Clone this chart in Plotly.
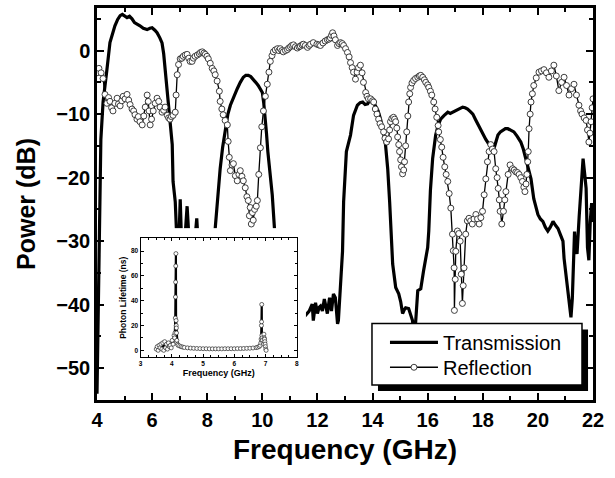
import plotly.graph_objects as go

# ---------------- data ----------------
trans_freq = [4.00, 4.03, 4.06, 4.09, 4.14, 4.22, 4.29, 4.36, 4.47, 4.56, 4.65, 4.75, 4.84, 4.92, 5.00,
              5.09, 5.18, 5.27, 5.36, 5.45, 5.56, 5.68, 5.82, 5.92, 6.00, 6.10, 6.18, 6.28, 6.36, 6.42,
              6.47, 6.53, 6.58, 6.65, 6.73, 6.76, 6.84, 6.88, 6.93, 6.98, 7.02, 7.06, 7.12, 7.20, 7.27,
              7.33, 7.42, 7.55, 7.62, 7.68, 7.85, 8.05, 8.20, 8.29, 8.38, 8.47, 8.56, 8.65, 8.75, 8.84,
              8.96, 9.09, 9.20, 9.31, 9.40, 9.49, 9.58, 9.67, 9.76, 9.85, 9.93, 10.00, 10.05, 10.10, 10.15,
              10.20, 10.28, 10.36, 10.44, 10.60, 11.00, 11.50, 11.70, 11.81, 11.85, 11.93, 12.00, 12.06, 12.11,
              12.18, 12.25, 12.31, 12.36, 12.44, 12.51, 12.58, 12.65, 12.73, 12.76, 12.84, 12.91, 12.95, 13.05,
              13.20, 13.31, 13.45, 13.55, 13.64, 13.73, 13.82, 13.93, 14.02, 14.10, 14.20, 14.29, 14.38, 14.47,
              14.55, 14.62, 14.68, 14.73, 14.84, 14.95, 15.02, 15.09, 15.15, 15.20, 15.31, 15.38, 15.45, 15.50,
              15.56, 15.64, 15.75, 15.85, 16.00, 16.04, 16.10, 16.18, 16.29, 16.38, 16.47, 16.60, 16.73, 16.82,
              16.91, 17.00, 17.09, 17.18, 17.27, 17.36, 17.45, 17.55, 17.64, 17.73, 17.82, 17.91, 18.00, 18.11,
              18.22, 18.32, 18.40, 18.47, 18.55, 18.64, 18.73, 18.82, 18.91, 19.02, 19.13, 19.25, 19.38, 19.47,
              19.56, 19.65, 19.75, 19.85, 19.93, 20.00, 20.09, 20.18, 20.27, 20.36, 20.45, 20.55, 20.64, 20.73,
              20.82, 20.91, 20.95, 21.02, 21.09, 21.15, 21.20, 21.25, 21.28, 21.33, 21.37, 21.42, 21.50, 21.56,
              21.64, 21.70, 21.75, 21.80, 21.85, 21.90, 21.95, 22.00]
trans_db = [-54, -45, -32, -22, -14, -8.1, -5, -3, 1.25, 2.8, 3.9, 4.9, 5.5, 5.7, 5.5,
            5.2, 5.4, 5.0, 4.4, 4.2, 3.9, 3.5, 3.3, 3.5, 3.6, 3.2, 2.8, 2.0, 1.2, -0.5,
            -3, -5.5, -8.1, -11.5, -14.8, -20.6, -23.8, -28, -30, -29, -23.4, -29, -31, -29, -24.5,
            -29, -32, -30, -26.4, -31, -35, -36, -33, -28, -23, -18.6, -15.2, -12.3, -10, -8.6,
            -7.2, -6, -5, -4.2, -3.9, -3.9, -4.1, -4.5, -5, -5.5, -6, -6.6, -8.2, -10.2, -13,
            -15.9, -19.5, -22.7, -28, -35, -40, -42, -41, -39.9, -42.5, -39.7, -41.4, -40.4, -40.2,
            -41, -39.1, -40.8, -41.4, -38.9, -41, -38.3, -38.9, -43, -42.5, -36.7, -31.6, -23.8, -15.9,
            -13.3, -10.2, -8.6, -8.2, -8.1, -8.5, -8.4, -7.6, -8.0, -8.6, -9.5, -10.8, -12.5, -14.8,
            -18.6, -23.8, -28.4, -33.6, -37.3, -38.3, -39.5, -41.4, -40.8, -40.5, -40.6, -41.8, -42.5, -45,
            -43, -37.8, -37.5, -34.7, -31, -28.4, -22, -17, -13.3, -11.8, -10.8, -10.2, -9.7, -9.9,
            -9.7, -9.4, -9.2, -9.1, -8.9, -9.0, -9.2, -9.6, -10, -10.8, -11.6, -12.4, -13.1, -14,
            -14.7, -15.3, -15.5, -14.5, -13.3, -12.8, -12.5, -12.3, -12.3, -12.5, -12.8, -13.5, -14.4, -15.5,
            -17, -18.5, -20.2, -23.3, -24.8, -25.8, -26.5, -26.9, -27.8, -28.4, -27.8, -26.9, -27.5, -28,
            -29, -30, -32.7, -35.5, -38.3, -40.5, -42, -39, -33, -28.5, -31, -32, -26, -21.7,
            -17, -19.5, -21.7, -31, -33, -27, -24, -27]

refl_freq = [4.00, 4.07, 4.15, 4.22, 4.29, 4.36, 4.42, 4.47, 4.53, 4.58, 4.65, 4.73, 4.78, 4.84, 4.90,
             4.95, 5.02, 5.09, 5.15, 5.20, 5.27, 5.33, 5.38, 5.45, 5.50, 5.56, 5.64, 5.70, 5.75, 5.82,
             5.86, 5.89, 5.93, 5.98, 6.04, 6.11, 6.18, 6.24, 6.29, 6.36, 6.42, 6.47, 6.55, 6.60, 6.65,
             6.70, 6.76, 6.84, 6.87, 6.91, 6.96, 7.02, 7.08, 7.13, 7.20, 7.27, 7.33, 7.38, 7.45, 7.50,
             7.56, 7.64, 7.71, 7.76, 7.82, 7.88, 7.93, 7.99, 8.04, 8.11, 8.18, 8.24, 8.29, 8.36, 8.44,
             8.47, 8.53, 8.58, 8.65, 8.73, 8.76, 8.80, 8.84, 8.90, 8.95, 9.02, 9.09, 9.15, 9.20, 9.26,
             9.31, 9.38, 9.44, 9.49, 9.53, 9.56, 9.60, 9.64, 9.67, 9.72, 9.78, 9.82, 9.87, 9.93, 9.98,
             10.04, 10.11, 10.18, 10.24, 10.29, 10.35, 10.40, 10.47, 10.55, 10.60, 10.65, 10.71, 10.76, 10.84, 10.91,
             10.96, 11.02, 11.07, 11.13, 11.20, 11.27, 11.33, 11.38, 11.44, 11.49, 11.56, 11.64, 11.70, 11.75, 11.85,
             11.98, 12.05, 12.11, 12.20, 12.28, 12.36, 12.42, 12.47, 12.51, 12.55, 12.60, 12.65, 12.73, 12.78, 12.84,
             12.90, 12.95, 13.02, 13.09, 13.15, 13.20, 13.26, 13.31, 13.38, 13.44, 13.49, 13.56, 13.62, 13.67, 13.75,
             13.80, 13.85, 13.93, 14.00, 14.04, 14.10, 14.16, 14.22, 14.27, 14.33, 14.40, 14.45, 14.51, 14.58, 14.62,
             14.65, 14.70, 14.76, 14.80, 14.84, 14.88, 14.91, 14.95, 14.98, 15.02, 15.05, 15.09, 15.13, 15.16, 15.20,
             15.24, 15.28, 15.31, 15.35, 15.38, 15.43, 15.49, 15.56, 15.64, 15.70, 15.75, 15.82, 15.88, 15.93, 16.00,
             16.04, 16.10, 16.15, 16.22, 16.27, 16.33, 16.38, 16.40, 16.46, 16.51, 16.56, 16.62, 16.67, 16.73, 16.78,
             16.84, 16.90, 16.93, 16.96, 16.97, 17.00, 17.02, 17.08, 17.13, 17.18, 17.22, 17.26, 17.29, 17.32, 17.38,
             17.44, 17.50, 17.56, 17.62, 17.68, 17.75, 17.81, 17.87, 17.93, 17.99, 18.05, 18.11, 18.17, 18.23, 18.29,
             18.35, 18.41, 18.47, 18.52, 18.56, 18.60, 18.63, 18.69, 18.75, 18.80, 18.84, 18.92, 18.99, 19.08, 19.14,
             19.20, 19.26, 19.32, 19.38, 19.44, 19.49, 19.53, 19.57, 19.60, 19.63, 19.65, 19.68, 19.72, 19.75, 19.80,
             19.85, 19.94, 20.04, 20.13, 20.22, 20.31, 20.40, 20.49, 20.58, 20.67, 20.76, 20.86, 20.95, 21.04, 21.13,
             21.22, 21.31, 21.40, 21.49, 21.55, 21.60, 21.68, 21.75, 21.80, 21.85, 21.89, 21.93, 21.97, 22.00]
refl_db = [-3.5, -2.8, -3.5, -4.4, -6.9, -8.3, -7.4, -8.0, -9.0, -9.5, -8.3, -7.5, -8.4, -8.7, -7.9,
           -7.2, -7.6, -6.9, -7.8, -8.5, -9.2, -9.5, -10.1, -10.8, -10.4, -11.2, -11.7, -10.3, -8.9, -7.0,
           -8.0, -9.5, -11.7, -10.8, -9.5, -8.3, -7.5, -8.0, -8.9, -9.7, -9.4, -8.9, -10.2, -10.6, -10.8,
           -10.4, -10.2, -9.7, -7.0, -3.8, -2.2, -1.3, -1.2, -0.9, -0.7, -0.6, -1.2, -1.7, -1.7, -1.2,
           -0.9, -0.7, -0.5, -0.3, -0.2, -0.4, -0.6, -0.9, -1.3, -2.0, -2.8, -3.2, -3.8, -4.8, -6.4,
           -8.0, -9.2, -10.1, -11.0, -11.7, -14.3, -16.8, -18.9, -18.0, -17.8, -19.7, -20.5, -19.5, -18.9, -19.8,
           -20.5, -21.6, -23.0, -23.6, -26.0, -24.7, -27.3, -25.5, -26.7, -25.0, -24.5, -23.6, -19.5, -15.3, -12.0,
           -9.5, -7.2, -5.3, -3.4, -1.7, -0.8, -0.2, 0.1, 0.3, 0.0, 0.3, 0.0, -0.2, 0.0, 0.15,
           0.4, 0.6, 0.8, 0.9, 0.6, 0.4, 0.6, 0.7, 0.9, 1.0, 0.8, 0.5, 0.8, 1.0, 1.25,
           1.0, 0.9, 0.8, 1.2, 1.5, 1.7, 1.8, 2.0, 2.4, 2.8, 2.3, 1.7, 0.8, 1.1, 1.25,
           1.1, 0.8, 0.3, -0.3, -1.0, -1.9, -2.7, -3.4, -4.5, -3.4, -2.7, -2.3, -3.5, -5.0, -6.6,
           -7.2, -7.6, -7.6, -7.9, -8.1, -9.2, -10.0, -10.8, -11.5, -12.0, -12.8, -13.8, -14.4, -13.9, -12.5,
           -11.2, -10.7, -10.5, -10.8, -11.2, -12.2, -13.6, -14.8, -15.9, -17.2, -18.3, -19.4, -18.8, -17.5, -15.0,
           -12.8, -10.3, -8.1, -6.8, -5.8, -5.1, -4.7, -4.4, -4.2, -4.0, -3.9, -4.2, -4.6, -5.0, -5.4,
           -5.8, -6.4, -7.0, -8.1, -9.2, -10.5, -11.8, -12.8, -14.0, -15.2, -16.8, -18.3, -19.5, -20.6, -22.5,
           -24.8, -28.9, -31.5, -34.2, -40.9, -36.0, -31.6, -28.4, -28.8, -30.0, -35.2, -39.8, -37.0, -34.2, -28.9,
           -26.8, -26.4, -26.8, -27.3, -26.5, -25.8, -26.5, -27.3, -26.3, -25.3, -22.7, -20.2, -17.5, -15.9, -14.8,
           -15.5, -15.9, -18.6, -20.0, -21.7, -23.5, -25.3, -27.3, -25.3, -23.5, -22.2, -19.5, -18.0, -18.6, -18.8,
           -19.1, -19.2, -19.5, -20.0, -20.6, -21.5, -22.2, -21.0, -19.5, -17.5, -15.9, -12.3, -10.0, -8.1, -6.8,
           -5.5, -4.3, -3.4, -3.2, -3.0, -3.5, -4.2, -3.2, -2.3, -4.0, -6.3, -5.0, -4.2, -5.5, -7.0,
           -6.0, -5.3, -7.0, -8.6, -9.5, -10.0, -10.6, -11.0, -12.5, -14.4, -13.0, -11.2, -9.0, -7.6]

inset_freq = [3.50, 3.53, 3.56, 3.59, 3.62, 3.65, 3.68, 3.71, 3.74, 3.77, 3.80, 3.83, 3.86, 3.89, 3.92,
              3.95, 3.98, 4.01, 4.04, 4.07,
              4.09, 4.10, 4.11, 4.115, 4.12, 4.125, 4.13, 4.135, 4.14, 4.145, 4.15, 4.16, 4.18, 4.20,
              4.25, 4.30, 4.35, 4.40,
              4.50, 4.60, 4.70, 4.80, 4.90, 5.00, 5.10, 5.20, 5.30, 5.40, 5.50, 5.60, 5.70, 5.80, 5.90,
              6.00, 6.10, 6.20, 6.30, 6.40, 6.50, 6.60, 6.70,
              6.75, 6.80, 6.83, 6.85, 6.86, 6.87, 6.875, 6.88, 6.885, 6.89, 6.90, 6.92, 6.94, 6.95,
              6.96, 6.97, 6.98, 6.99, 7.00, 7.01, 7.02]
inset_tau = [1, 3, 0, 4, 2, 5, 1, 6, 0, 7, 2, 5, 1, 6, 3,
             4, 2, 8, 5, 12,
             10, 14, 26, 43, 55, 68, 78, 24, 20, 18, 14, 8, 5, 4,
             3.5, 3, 2.6, 2.3,
             2, 1.8, 1.6, 1.5, 1.4, 1.3, 1.3, 1.2, 1.2, 1.2, 1.2, 1.2, 1.3, 1.3, 1.3,
             1.3, 1.4, 1.4, 1.5, 1.6, 1.7, 1.9, 2.2,
             2.5, 3, 4, 6, 9, 20, 23, 37, 12, 10, 8, 6, 5, 13,
             10, 9, 7, 5, 3, 1, 0]

x_ticks = [4, 6, 8, 10, 12, 14, 16, 18, 20, 22]
y_ticks = [0, -10, -20, -30, -40, -50]
inset_x_ticks = [3, 4, 5, 6, 7, 8]
inset_y_ticks = [0, 20, 40, 60, 80]

FONT = "Liberation Sans, Arial, sans-serif"

fig = go.Figure()

fig.add_trace(go.Scatter(x=trans_freq, y=trans_db, mode="lines", name="Transmission",
                         line=dict(color="black", width=3.2), xaxis="x", yaxis="y",
                         legend="legend"))
fig.add_trace(go.Scatter(x=refl_freq, y=refl_db, mode="lines+markers", name="Reflection",
                         line=dict(color="black", width=1.3),
                         marker=dict(symbol="circle", size=6, color="white",
                                     line=dict(color="#2a2a2a", width=0.9)),
                         xaxis="x", yaxis="y", legend="legend2"))
# white backing of the pasted inset picture
fig.add_trace(go.Scatter(x=[0, 1, 1, 0, 0], y=[0, 0, 1, 1, 0], mode="lines", fill="toself",
                         fillcolor="white", line=dict(width=0, color="white"),
                         showlegend=False, hoverinfo="skip", xaxis="x2", yaxis="y2"))
fig.add_trace(go.Scatter(x=inset_freq, y=inset_tau, mode="lines+markers", showlegend=False,
                         line=dict(color="black", width=2.2),
                         marker=dict(symbol="circle", size=4, color="white",
                                     line=dict(color="#2a2a2a", width=0.7)),
                         xaxis="x3", yaxis="y3"))

axis_common = dict(showgrid=False, zeroline=False, showline=True, linecolor="black",
                   mirror="ticks", ticks="inside", tickcolor="black")

# legend box drawn as shapes (shadow + framed white box)
box_shadow = dict(type="rect", xref="paper", yref="paper", x0=0.5665, x1=0.990, y0=0.0228, y1=0.1797,
                  fillcolor="black", line=dict(width=0), layer="above")
box_frame = dict(type="rect", xref="paper", yref="paper", x0=0.5544, x1=0.9778, y0=0.038, y1=0.1949,
                 fillcolor="white", line=dict(width=1.5, color="black"), layer="above")

legend_common = dict(xanchor="left", yanchor="middle", bgcolor="rgba(0,0,0,0)", borderwidth=0,
                     font=dict(size=20, family=FONT), itemwidth=48)

fig.update_layout(
    width=615, height=478,
    margin=dict(l=97, r=22, t=5, b=78),
    paper_bgcolor="white", plot_bgcolor="white",
    font=dict(family=FONT, color="black"),
    xaxis=dict(**axis_common, range=[4, 22], tickvals=x_ticks, linewidth=2.5,
               ticklen=7, tickwidth=2,
               minor=dict(dtick=1, ticklen=4, tickwidth=2, ticks="inside", tickcolor="black"),
               tickfont=dict(size=20, weight="bold", family=FONT),
               title=dict(text="Frequency (GHz)", font=dict(size=28, weight="bold", family=FONT),
                          standoff=10)),
    yaxis=dict(**axis_common, range=[-55, 6.7], tickvals=y_ticks, linewidth=2.5,
               ticklen=7, tickwidth=2,
               minor=dict(dtick=5, ticklen=4, tickwidth=2, ticks="inside", tickcolor="black"),
               tickfont=dict(size=20, weight="bold", family=FONT),
               title=dict(text="Power (dB)", font=dict(size=25, weight="bold", family=FONT),
                          standoff=14)),
    xaxis2=dict(domain=[0.042, 0.421], range=[0, 1], visible=False, anchor="y2"),
    yaxis2=dict(domain=[0.03, 0.438], range=[0, 1], visible=False, anchor="x2"),
    xaxis3=dict(**axis_common, domain=[0.088, 0.4026], range=[3, 8], tickvals=inset_x_ticks,
                anchor="y3", linewidth=1.2, ticklen=3, tickwidth=1,
                minor=dict(dtick=0.25, ticklen=2, tickwidth=1, ticks="inside", tickcolor="black"),
                tickfont=dict(size=6.5, weight="bold", family=FONT),
                title=dict(text="Frequency (GHz)", font=dict(size=9, weight="bold", family=FONT),
                           standoff=3)),
    yaxis3=dict(**axis_common, domain=[0.109, 0.4127], range=[-5.6, 90.4], tickvals=inset_y_ticks,
                anchor="x3", linewidth=1.2, ticklen=3, tickwidth=1,
                minor=dict(dtick=10, ticklen=2, tickwidth=1, ticks="inside", tickcolor="black"),
                tickfont=dict(size=6.5, weight="bold", family=FONT),
                title=dict(text="Photon Lifetime (ns)", font=dict(size=8.5, weight="bold", family=FONT),
                           standoff=3)),
    legend=dict(**legend_common, x=0.5806, y=0.1468),
    legend2=dict(**legend_common, x=0.5806, y=0.0835),
    shapes=[box_shadow, box_frame],
)

fig.write_html("out.html", config={"displayModeBar": False},
               post_script="document.body.style.margin='0px';")
